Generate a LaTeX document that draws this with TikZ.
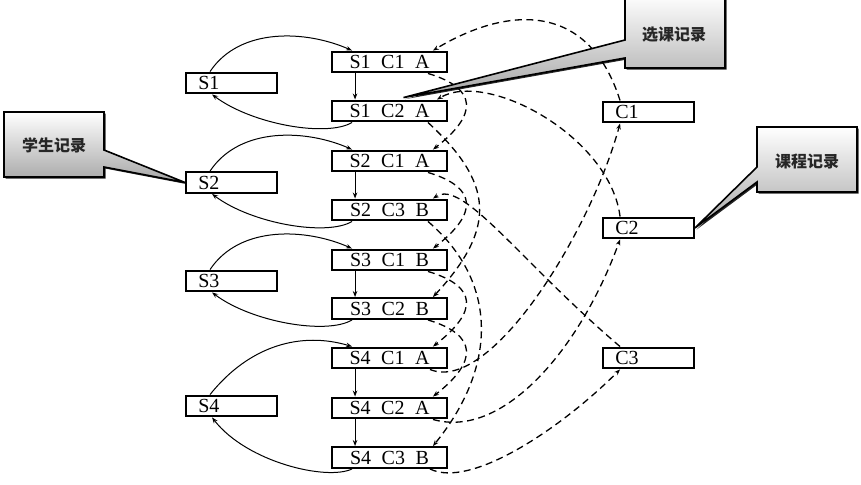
\documentclass[tikz,border=0pt]{standalone}
\usepackage{fontspec}
\setmainfont{Liberation Serif}
\newfontfamily\recfont{Liberation Serif}[WordSpace=2.1]
\newfontfamily\cjk{Noto Sans CJK SC}
\usetikzlibrary{arrows.meta,shadows}

\begin{document}
\begin{tikzpicture}[x=1pt,y=1pt,>={Stealth[length=6pt,width=4.5pt]},
  recbox/.style={draw,line width=2.4pt,minimum width=114.5pt,minimum height=20.5pt,inner sep=0pt,
    font=\recfont\fontsize{20}{20}\selectfont},
  stubox/.style={draw,line width=2.4pt,text width=66.5pt,align=left,inner xsep=12pt,inner ysep=0pt,
    minimum height=20.5pt,font=\fontsize{20}{20}\selectfont},
  slink/.style={->,line width=1pt},
  clink/.style={->,line width=1.3pt,dash pattern=on 7pt off 4.5pt},
  notebox/.style={draw,line width=1.6pt,top color=white,bottom color=black!35,
    drop shadow={shadow xshift=1.6pt,shadow yshift=-1.6pt,fill=black,opacity=.85}},
  notetext/.style={font=\cjk\bfseries\fontsize{16}{16}\selectfont,text=black!85}]
   \useasboundingbox (0,0) rectangle (861,484);
   % records
   \node[recbox] (r1) at (389.5,422) {S1 C1 A};
   \node[recbox] (r2) at (389.5,373) {S1 C2 A};
   \node[recbox] (r3) at (389.5,323) {S2 C1 A};
   \node[recbox] (r4) at (389.5,274) {S2 C3 B};
   \node[recbox] (r5) at (389.5,224) {S3 C1 B};
   \node[recbox] (r6) at (389.5,175.5) {S3 C2 B};
   \node[recbox] (r7) at (389.5,126) {S4 C1 A};
   \node[recbox] (r8) at (389.5,76) {S4 C2 A};
   \node[recbox] (r9) at (389.5,26.5) {S4 C3 B};
   % students and courses
   \node[stubox] (s1) at (231.5,401) {S1};
   \node[stubox] (s2) at (231.5,301.5) {S2};
   \node[stubox] (s3) at (231.5,203) {S3};
   \node[stubox] (s4) at (231.5,78) {S4};
   \node[stubox] (c1) at (648.5,372) {C1};
   \node[stubox] (c2) at (648.5,256) {C2};
   \node[stubox] (c3) at (648.5,126) {C3};
   % student lists
   \draw[slink] ([xshift=25pt]s1.north west) .. controls +(30,45) and +(-45,20) .. ([xshift=21pt]r1.north west);
   \draw[slink] ([xshift=24pt]r1.south west) -- ([xshift=24pt]r2.north west);
   \draw[slink] ([xshift=21pt]r2.south west) .. controls +(-25,-15) and +(40,-30) .. ([xshift=27pt]s1.south west);
   \draw[slink] ([xshift=25pt]s2.north west) .. controls +(30,45) and +(-45,20) .. ([xshift=21pt]r3.north west);
   \draw[slink] ([xshift=24pt]r3.south west) -- ([xshift=24pt]r4.north west);
   \draw[slink] ([xshift=21pt]r4.south west) .. controls +(-25,-15) and +(40,-30) .. ([xshift=27pt]s2.south west);
   \draw[slink] ([xshift=25pt]s3.north west) .. controls +(30,45) and +(-45,20) .. ([xshift=21pt]r5.north west);
   \draw[slink] ([xshift=24pt]r5.south west) -- ([xshift=24pt]r6.north west);
   \draw[slink] ([xshift=21pt]r6.south west) .. controls +(-25,-15) and +(40,-30) .. ([xshift=27pt]s3.south west);
   \draw[slink] ([xshift=25pt]s4.north west) .. controls +(40,50) and +(-50,15) .. ([xshift=21pt]r7.north west);
   \draw[slink] ([xshift=24pt]r7.south west) -- ([xshift=24pt]r8.north west);
   \draw[slink] ([xshift=24pt]r8.south west) -- ([xshift=24pt]r9.north west);
   \draw[slink] ([xshift=21pt]r9.south west) .. controls +(-25,-12) and +(35,-45) .. ([xshift=27pt]s4.south west);
   % course lists
   \draw[clink] ([xshift=18pt]c1.north west) .. controls +(-30,95) and +(80,48) .. ([xshift=-15pt]r1.north east);
   \draw[clink] ([xshift=18pt]c2.north west) .. controls +(-10,80) and +(50,30) .. ([xshift=-11pt]r2.north east);
   \draw[clink] ([xshift=18pt]c3.north west) .. controls +(-100,85) and +(30,20) .. ([xshift=-15pt]r4.north east);
   \draw[clink] ([xshift=-20pt]r1.south east) .. controls +(50,-15) and +(45,35) .. ([xshift=-15pt]r3.north east);
   \draw[clink] ([xshift=-20pt]r3.south east) .. controls +(50,-15) and +(45,35) .. ([xshift=-15pt]r5.north east);
   \draw[clink] ([xshift=-20pt]r5.south east) .. controls +(50,-15) and +(45,35) .. ([xshift=-15pt]r7.north east);
   \draw[clink] ([xshift=-20pt]r6.south east) .. controls +(50,-15) and +(45,35) .. ([xshift=-15pt]r8.north east);
   \draw[clink] ([xshift=-20pt]r2.south east) .. controls +(65,-60) and +(65,70) .. ([xshift=-15pt]r6.north east);
   \draw[clink] ([xshift=-20pt]r4.south east) .. controls +(70,-60) and +(65,80) .. ([xshift=-15pt]r9.north east);
   \draw[clink] ([xshift=-18pt]r7.south east) .. controls +(60,-25) and +(-30,-110) .. ([xshift=18pt]c1.south west);
   \draw[clink] ([xshift=-15pt]r8.south east) .. controls +(70,-20) and +(-40,-110) .. ([xshift=18pt]c2.south west);
   \draw[clink] ([xshift=-18pt]r9.south east) .. controls +(40,-20) and +(-60,-60) .. ([xshift=18pt]c3.south west);
   % callouts
   \draw[notebox] (104,372) -- (104,334) -- (s2.west) -- (104,317) -- (104,307) -- (4,307) -- (4,372) -- cycle;
   \node[notetext] (n1) at (54,339) {学生记录};
   \draw[notebox] (625,490) -- (625,444) -- ([xshift=14pt,yshift=2pt]r2.north) -- (625,426) -- (625,416) -- (725,416) -- (725,490) -- cycle;
   \node[notetext] (n2) at (674,449) {选课记录};
   \draw[notebox] (757,357) -- (757,317) -- (c2.east) -- (757,302) -- (757,292) -- (857,292) -- (857,357) -- cycle;
   \node[notetext] (n3) at (807,322) {课程记录};
\end{tikzpicture}
\end{document}
